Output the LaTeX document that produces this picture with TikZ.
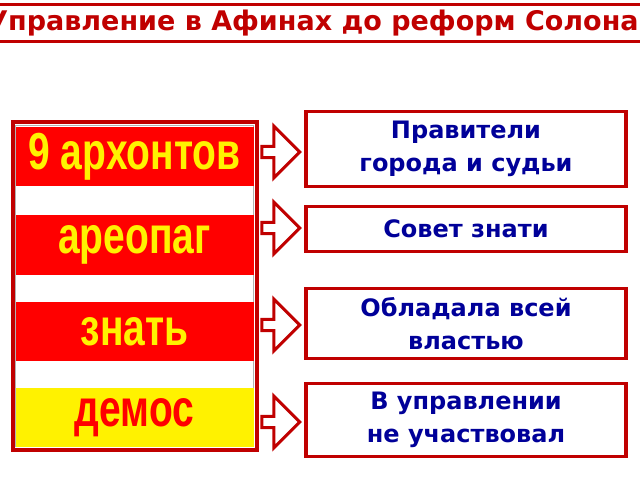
\documentclass[tikz,border=0pt]{standalone}
\usepackage{fontspec}
\setmainfont{DejaVu Sans}
\newfontfamily\stripfont{Liberation Sans}
\usetikzlibrary{shapes.arrows}
\definecolor{darkred}{RGB}{192,0,0}
\definecolor{fullred}{RGB}{255,0,0}
\definecolor{navy}{RGB}{0,0,153}
\tikzset{%
  strip/.style={
    rectangle,
    inner sep=0pt,
    minimum width=238pt,
    minimum height=59pt,
    font=\stripfont\bfseries\fontsize{52}{52}\selectfont
  },
  infobox/.style={
    rectangle,
    draw=darkred,
    line width=3.5pt,
    fill=white,
    minimum width=320pt,
    align=center,
    text=navy,
    font=\bfseries\fontsize{24}{33}\selectfont
  },
  blockarrow/.style={
    single arrow,
    draw=darkred,
    line width=3pt,
    fill=white,
    minimum height=38pt,
    minimum width=52pt,
    single arrow head extend=16pt,
    inner sep=3pt
  },
}
\begin{document}
\begin{tikzpicture}[x=1pt, y=1pt]
\useasboundingbox (0,0) rectangle (640,480);
\clip (0,0) rectangle (640,480);

% title
\node [draw=darkred, line width=3pt, fill=white, minimum width=660pt,
  minimum height=37pt, text=darkred, font=\bfseries\fontsize{27}{27}\selectfont]
  (title) at (313,457) {Управление в Афинах до реформ Солона};

% left column
\node [draw=darkred, line width=4pt, minimum width=244pt, minimum height=327pt,
  inner sep=0pt] (frame) at (134.5,194) {};
\node [draw=gray!60, line width=1pt, minimum width=238pt, minimum height=321pt,
  inner sep=0pt] (inner) at (134.5,194) {};
\foreach \m/\t/\y/\f/\c in {archons/9 архонтов/323/fullred/yellow,
    areopag/ареопаг/235/fullred/yellow,
    nobles/знать/148.5/fullred/yellow,
    demos/демос/62.5/yellow/fullred}
  \node [strip, fill=\f, text=\c] (\m) at (134.5,\y) {\scalebox{0.75}[1]{\t}};

% right column
\node [infobox, minimum height=75pt] (rulers) at (466,331) {Правители\\города и судьи};
\node [infobox, minimum height=45pt] (council) at (466,251) {Совет знати};
\node [infobox, minimum height=70pt] (power) at (466,156.5) {Обладала всей\\властью};
\node [infobox, minimum height=73pt] (none) at (466,60) {В управлении\\не участвовал};

% arrows
\foreach \a/\b/\y in {archons/rulers/328, areopag/council/252,
    nobles/power/155, demos/none/58}
  \node [blockarrow] at (278,\y) {};

\end{tikzpicture}
\end{document}
